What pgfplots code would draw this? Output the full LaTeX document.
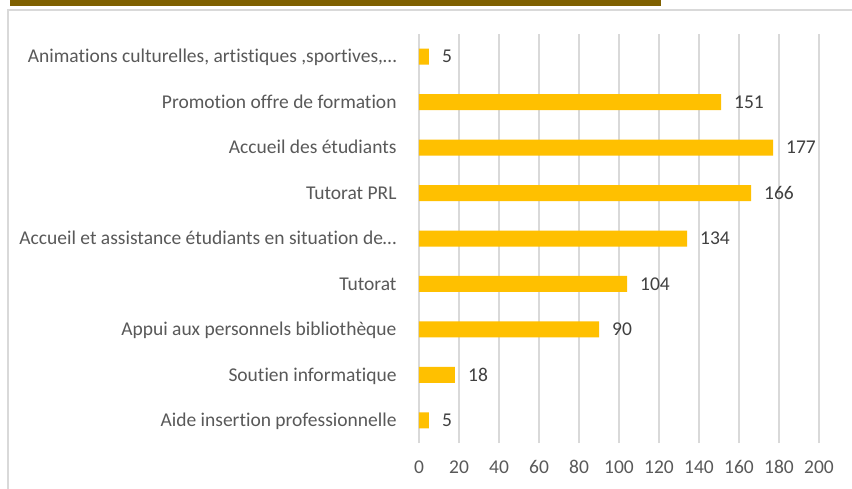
\documentclass[border=0pt]{standalone}
\usepackage{pgfplots}
\pgfplotsset{compat=1.18}
\usepackage{fontspec}
\setmainfont[Ligatures=NoCommon]{Carlito}
\definecolor{barc}{HTML}{FFC000}
\definecolor{gridc}{HTML}{D9D9D9}
\definecolor{labc}{HTML}{595959}
\definecolor{valc}{HTML}{404040}
\definecolor{topbar}{HTML}{7F6000}
\newcommand{\chartfont}{\fontsize{19.5}{23}\selectfont}
\begin{document}
\begin{tikzpicture}[x=1pt,y=1pt]
\fill[white] (0,0) rectangle (852,488);
\fill[topbar] (10,482) rectangle (661,488);
\draw[gridc, line width=1.3pt] (8,-5) rectangle (870,478);
\begin{axis}[
  at={(419pt,45pt)}, anchor=south west,
  scale only axis, width=400pt, height=409pt,
  xbar, bar width=16pt,
  xmin=0, xmax=200, ymin=-0.5, ymax=8.5,
  xtick={0,20,...,200},
  ytick={0,...,8},
  yticklabels={Aide insertion professionnelle,Soutien informatique,Appui aux personnels bibliothèque,Tutorat,Accueil et assistance étudiants en situation de…,Tutorat PRL,Accueil des étudiants,Promotion offre de formation,{Animations culturelles, artistiques ,sportives,…}},
  xmajorgrids, major grid style={gridc, line width=1.3pt},
  axis line style={draw=none}, tick style={draw=none},
  /pgf/number format/assume math mode=true,
  ticklabel style={font=\chartfont, text=labc},
  yticklabel style={anchor=base east, inner sep=0pt, xshift=-18pt, yshift=-6.2pt},
  xticklabel style={anchor=base, inner sep=0pt, yshift=-30.5pt},
  nodes near coords,
  nodes near coords style={font=\chartfont, text=valc, anchor=west, inner sep=0pt, xshift=13pt},
]
\addplot[fill=barc, draw=none] coordinates {
(5,0) (18,1) (90,2) (104,3) (134,4) (166,5) (177,6) (151,7) (5,8)
};
\end{axis}
\pgfresetboundingbox
\path[use as bounding box] (0,0) rectangle (852,488);
\end{tikzpicture}
\end{document}
